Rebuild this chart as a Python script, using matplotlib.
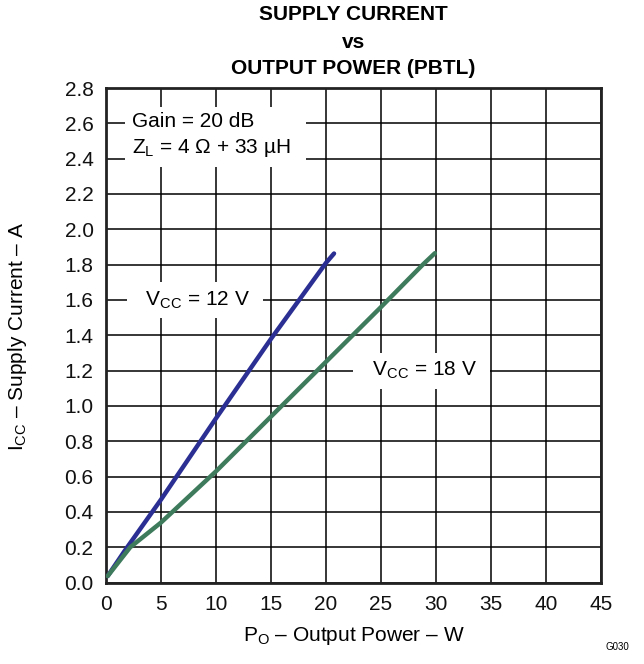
import numpy as np
from matplotlib import pyplot as plt

plt.rc("font", family=["Liberation Sans", "DejaVu Sans"])
plt.rc("mathtext", fontset="custom", rm="Liberation Sans", it="Liberation Sans:italic")

# Supply current vs output power, PBTL mode
po_12v = [0.15, 1.7, 5, 10, 15, 20, 20.73]
icc_12v = [0.037, 0.18, 0.47, 0.93, 1.38, 1.81, 1.863]

po_18v = [0.15, 2.2, 5, 10, 15, 20, 25, 28.8, 29.9]
icc_18v = [0.037, 0.2, 0.34, 0.63, 0.94, 1.25, 1.56, 1.80, 1.865]

x_ticks = np.arange(0, 46, 5)
y_ticks = np.arange(0, 2.81, 0.2)

blue = "#2b2f93"
green = "#3e7b5c"
fs = 15

fig = plt.figure(figsize=(6.44, 6.64), dpi=100)
ax = fig.add_axes([106 / 644, 1 - 582.6 / 664, 495 / 644, 494.6 / 664])

ax.plot(po_12v, icc_12v, color=blue, lw=3.2, solid_capstyle="round", zorder=4)
ax.plot(po_18v, icc_18v, color=green, lw=3.2, solid_capstyle="round", zorder=4)

ax.set_xlim(0, 45)
ax.set_ylim(0, 2.8)
ax.set_xticks(x_ticks)
ax.set_yticks(y_ticks)
ax.set_xticklabels([f"{v:d}" for v in x_ticks])
ax.set_yticklabels([f"{v:.1f}" for v in y_ticks])
ax.tick_params(axis="both", length=0, labelsize=fs, colors="#111111")
ax.tick_params(axis="x", pad=9)
ax.tick_params(axis="y", pad=9)
ax.grid(True, color="black", lw=1.1, zorder=1)
ax.set_axisbelow(True)
for s in ax.spines.values():
    s.set_linewidth(2.0)
    s.set_color("#222222")

box = dict(boxstyle="square,pad=0.35", facecolor="white", edgecolor="none")

ax.text(2.4, 2.665, "Gain = 20 dB\nZ$_\\mathregular{L}$ = 4 \u03a9 + 33 \u00b5H  ",
        fontsize=fs, ha="left", va="top", linespacing=1.4, bbox=box, zorder=3)
ax.text(8.1, 1.6, "  V$_\\mathregular{CC}$ = 12 V  ", fontsize=fs,
        ha="center", va="center", bbox=box, zorder=3)
ax.text(28.7, 1.2, "  V$_\\mathregular{CC}$ = 18 V  ", fontsize=fs,
        ha="center", va="center", bbox=box, zorder=3)

# titles and axis labels
for txt, y in [("SUPPLY CURRENT", 15), ("vs", 42), ("OUTPUT POWER (PBTL)", 68)]:
    fig.text(353.5 / 644, 1 - y / 664, txt, fontsize=fs, fontweight="bold",
             ha="center", va="center")
fig.text(353.5 / 644, 1 - 636 / 664, "P$_\\mathregular{O}$ \u2013 Output Power \u2013 W",
         fontsize=fs, ha="center", va="center")
fig.text(18 / 644, 1 - 336 / 664, "I$_\\mathregular{CC}$ \u2013 Supply Current \u2013 A",
         fontsize=fs, ha="center", va="center", rotation=90)
fig.text(617 / 644, 1 - 647 / 664, "G030", fontsize=7, ha="center", va="center")

fig.savefig("out.png", dpi=100)
